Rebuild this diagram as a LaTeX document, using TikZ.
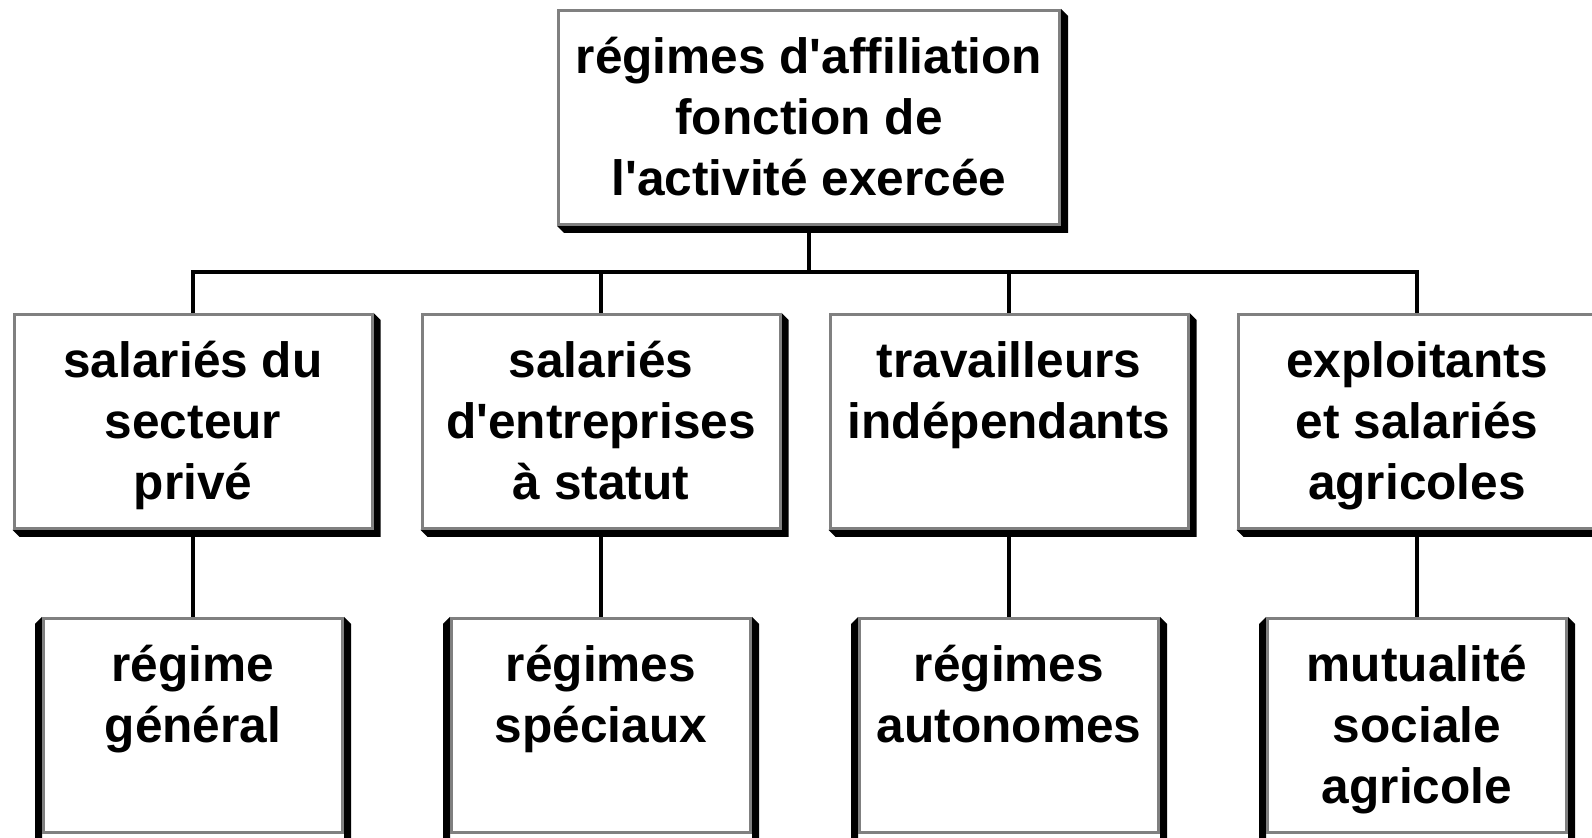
\documentclass[tikz,border=0pt]{standalone}
\usepackage{fontspec}
\setmainfont{Liberation Sans}
\definecolor{framegray}{RGB}{128,128,128}
\newcommand{\q}{\textquotesingle{}}
\newcommand{\topstrut}{\rule{0pt}{26.4pt}}
\begin{document}
\begin{tikzpicture}[x=0.5pt,y=-0.5pt,
  box/.style={draw=framegray, line width=1.5pt, fill=white, align=center, inner sep=0pt,
    font=\bfseries\fontsize{24.8pt}{30.5pt}\selectfont, minimum height=107pt},
  topbox/.style={box, minimum width=250.5pt},
  midbox/.style={box, minimum width=179pt},
  botbox/.style={box, minimum width=149.5pt},
  link/.style={line width=1.7pt, draw=black},
  shade/.style={fill=black, draw=none}]
\useasboundingbox (0,0) rectangle (1592,838);
\clip (0,0) rectangle (1592,838);

% nodes (placed first so connectors can reference them; drawn over later)
\node[topbox] (top) at (809,117.5) {\topstrut r\'egimes d\q affiliation\\fonction de\\l\q activit\'e exerc\'ee\strut};
\node[midbox] (m1) at (193,421.5) {\topstrut salari\'es du\\secteur\\priv\'e\strut};
\node[midbox] (m2) at (601,421.5) {\topstrut salari\'es\\d\q entreprises\\\`a statut\strut};
\node[midbox] (m3) at (1009,421.5) {\topstrut travailleurs\\ind\'ependants\\\strut};
\node[midbox] (m4) at (1417,421.5) {\topstrut exploitants\\et salari\'es\\agricoles\strut};
\node[botbox] (b1) at (193,725.5) {\topstrut r\'egime\\g\'en\'eral\\\strut};
\node[botbox] (b2) at (601,725.5) {\topstrut r\'egimes\\sp\'eciaux\\\strut};
\node[botbox] (b3) at (1009,725.5) {\topstrut r\'egimes\\autonomes\\\strut};
\node[botbox] (b4) at (1417,725.5) {\topstrut mutualit\'e\\sociale\\agricole\strut};

\coordinate (h) at (809,272);

% connectors
\draw[link] (top.south) -- (top.south |- h);
\draw[link, line join=miter] (m1.north) -- (m1.north |- h) -- (m4.north |- h) -- (m4.north);
\draw[link] (m2.north) -- (m2.north |- h);
\draw[link] (m3.north) -- (m3.north |- h);
\foreach \i in {1,2,3,4}{
  \draw[link] (m\i.south) -- (b\i.north);
}

% shadows of top and middle boxes
\foreach \n in {top,m1,m2,m3,m4}{
  \fill[shade] (\n.north east) -- ([shift={(3.5pt,-3.5pt)}]\n.north east)
    -- ([shift={(3.5pt,-3.5pt)}]\n.south east) -- ([shift={(3.5pt,-3.5pt)}]\n.south west)
    -- (\n.south west) -- cycle;
}
% side shadows of bottom boxes
\foreach \n in {b1,b2,b3,b4}{
  \fill[shade] (\n.north west) -- ([shift={(-3.5pt,-3.5pt)}]\n.north west)
    -- ([shift={(-3.5pt,-20pt)}]\n.south west) -- ([yshift=-20pt]\n.south west) -- cycle;
  \fill[shade] (\n.north east) -- ([shift={(3.5pt,-3.5pt)}]\n.north east)
    -- ([shift={(3.5pt,-20pt)}]\n.south east) -- ([yshift=-20pt]\n.south east) -- cycle;
}

% redraw boxes on top
\node[topbox] at (top) {\topstrut r\'egimes d\q affiliation\\fonction de\\l\q activit\'e exerc\'ee\strut};
\node[midbox] at (m1) {\topstrut salari\'es du\\secteur\\priv\'e\strut};
\node[midbox] at (m2) {\topstrut salari\'es\\d\q entreprises\\\`a statut\strut};
\node[midbox] at (m3) {\topstrut travailleurs\\ind\'ependants\\\strut};
\node[midbox] at (m4) {\topstrut exploitants\\et salari\'es\\agricoles\strut};
\node[botbox] at (b1) {\topstrut r\'egime\\g\'en\'eral\\\strut};
\node[botbox] at (b2) {\topstrut r\'egimes\\sp\'eciaux\\\strut};
\node[botbox] at (b3) {\topstrut r\'egimes\\autonomes\\\strut};
\node[botbox] at (b4) {\topstrut mutualit\'e\\sociale\\agricole\strut};
\end{tikzpicture}
\end{document}
